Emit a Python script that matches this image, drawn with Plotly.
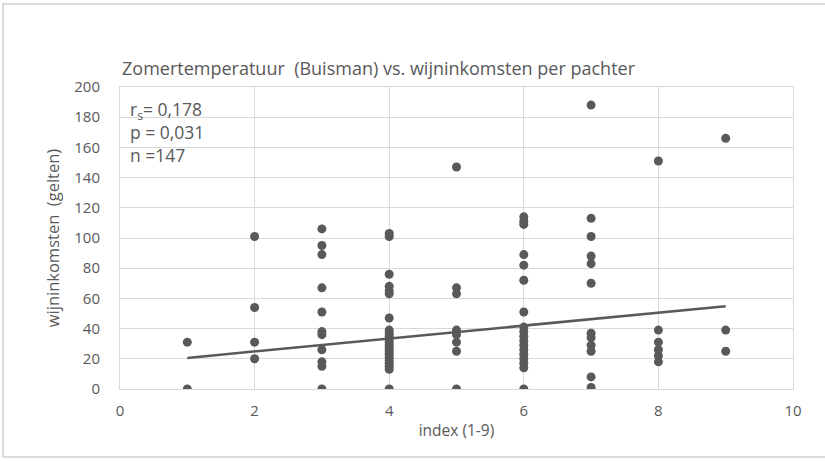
import plotly.graph_objects as go

# Data (index 1-9 vs. wijninkomsten in gelten)
x1 = [1, 1]
y1 = [31, 0]
x2 = [2, 2, 2, 2]
y2 = [101, 54, 31, 20]
x3 = [3] * 11
y3 = [106, 95, 89, 67, 51, 38, 36, 26, 18, 15, 0]
x4 = [4] * 22
y4 = [103, 101, 76, 68, 65, 63, 47, 39, 37, 35, 33, 31, 29, 27, 25, 23, 21, 19, 17, 15, 13, 0]
x5 = [5] * 8
y5 = [147, 67, 63, 39, 36, 31, 25, 0]
x6 = [6] * 18
y6 = [114, 111, 109, 89, 82, 72, 51, 41, 38, 35, 32, 29, 26, 23, 20, 17, 14, 0]
x7 = [7] * 12
y7 = [188, 113, 101, 88, 83, 70, 37, 34, 29, 25, 8, 1]
x8 = [8] * 6
y8 = [151, 39, 31, 26, 22, 18]
x9 = [9] * 3
y9 = [166, 39, 25]

xs = x1 + x2 + x3 + x4 + x5 + x6 + x7 + x8 + x9
ys = y1 + y2 + y3 + y4 + y5 + y6 + y7 + y8 + y9

# Trend line end points
trend_x = [1, 9]
trend_y = [20.6, 54.8]

title_text = "Zomertemperatuur  (Buisman) vs. wijninkomsten per pachter"
x_title = "index (1-9)"
y_title = "wijninkomsten  (gelten)"
stats_lines = ["r<sub>s</sub>= 0,178", "p = 0,031", "n =147"]

grey = "#595959"
grid = "#d9d9d9"
font_family = "Open Sans, Noto Sans, sans-serif"

fig = go.Figure()
fig.add_trace(go.Scatter(
    x=xs, y=ys, mode="markers",
    marker=dict(color=grey, size=9),
    showlegend=False, hoverinfo="x+y"))
fig.add_trace(go.Scatter(
    x=trend_x, y=trend_y, mode="lines",
    line=dict(color=grey, width=2.5),
    showlegend=False, hoverinfo="skip"))

fig.update_layout(
    width=825, height=461,
    margin=dict(l=120, r=32, t=87, b=72),
    paper_bgcolor="white", plot_bgcolor="white",
    font=dict(family=font_family, color=grey, size=15),
    title=dict(text=title_text, x=122 / 825, xanchor="left",
               y=1 - 69 / 461, yanchor="middle",
               font=dict(size=18, color=grey, family=font_family)),
    xaxis=dict(range=[0, 10], dtick=2, showgrid=True, gridcolor=grid, gridwidth=1,
               zeroline=False, showline=True, linecolor=grid, mirror=True,
               ticks="", tickfont=dict(size=15, color=grey), ticklabelstandoff=8,
               title=dict(text=x_title, font=dict(size=15.5, color=grey), standoff=6)),
    yaxis=dict(range=[0, 200], dtick=20, showgrid=True, gridcolor=grid, gridwidth=1,
               zeroline=False, showline=True, linecolor=grid, mirror=True,
               ticks="", tickfont=dict(size=15, color=grey), ticklabelstandoff=16,
               title=dict(text=y_title, font=dict(size=16.5, color=grey), standoff=10)),
    shapes=[dict(type="rect", xref="paper", yref="paper",
                 x0=-117 / 673, x1=1.6, y0=-68 / 302, y1=1 + 83 / 302,
                 line=dict(color="#d0d0d0", width=1.5), fillcolor="rgba(0,0,0,0)",
                 layer="below")],
)

fig.add_annotation(text="<br>".join(stats_lines), xref="paper", yref="paper",
                   x=8 / 673, y=1 - 44.5 / 302, align="left",
                   xanchor="left", yanchor="middle", showarrow=False,
                   font=dict(size=17.5, color=grey, family=font_family))

fig.write_html("out.html")
